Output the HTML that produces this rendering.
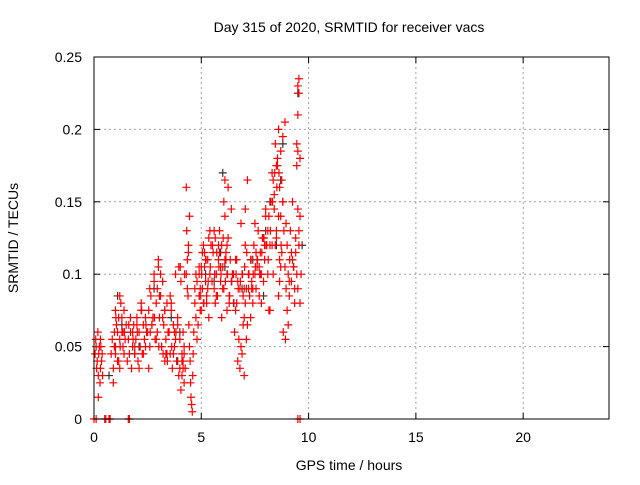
<!DOCTYPE html>
<html><head><meta charset="utf-8"><style>
body{margin:0;background:#fff}
svg text{font-family:"Liberation Sans",sans-serif;font-size:14px;fill:#000}
</style></head><body>
<svg id="chart" width="640" height="480">
<text x="349" y="32" text-anchor="middle">Day 315 of 2020, SRMTID for receiver vacs</text>
<g id="grid"></g>
<g id="ticks"></g>
<g id="black"></g>
<g id="red"></g>
<rect x="94" y="57" width="515" height="362" fill="none" stroke="#000"/>
<text x="349" y="470" text-anchor="middle">GPS time / hours</text>
<text transform="translate(18,238) rotate(-90)" text-anchor="middle">SRMTID / TECUs</text>
</svg>
<script>
const xTicks=[0,5,10,15,20];
const yTicks=[0,0.05,0.1,0.15,0.2,0.25];
const yTickLabels=["0","0.05","0.1","0.15","0.2","0.25"];
const redTimes=[0.05,0.08,0.1,0.12,0.15,0.18,0.2,0.22,0.25,0.28,0.3,0.32,0.35,0.38,0.4,0.2,0.3,
0.8,0.85,0.9,0.95,1.0,1.05,1.1,1.15,1.2,1.25,1.3,1.35,1.4,1.45,1.5,0.9,1.0,1.1,1.2,1.3,1.4,1.0,1.2,1.35,0.95,1.15,
1.55,1.6,1.65,1.7,1.75,1.8,1.85,1.9,1.95,2.0,2.05,2.1,2.15,2.2,2.25,2.3,2.35,2.4,2.45,1.7,1.9,2.1,2.3,1.8,2.0,2.2,2.4,
2.5,2.55,2.6,2.65,2.7,2.75,2.8,2.85,2.9,2.95,3.0,3.05,3.1,3.15,3.2,3.25,3.3,3.35,3.4,3.45,2.6,2.8,3.0,3.2,3.4,2.7,2.9,3.1,3.3,2.55,2.75,2.95,3.15,3.35,3.05,
3.5,3.55,3.6,3.65,3.7,3.75,3.8,3.85,3.9,3.95,4.0,4.05,4.1,4.15,4.2,4.25,3.6,3.7,3.8,3.9,4.0,4.1,4.2,3.55,3.75,3.95,4.15,4.05,4.1,4.15,4.2,
4.3,4.32,4.35,4.38,4.4,4.42,4.45,4.48,4.5,4.52,4.55,4.58,4.6,4.62,4.3,4.35,4.4,4.45,
4.65,4.7,4.75,4.8,4.85,4.9,4.95,5.0,5.05,5.1,5.15,5.2,5.25,5.3,5.35,5.4,5.45,4.7,4.8,4.9,5.0,5.1,5.2,5.3,5.4,4.75,4.95,5.15,5.35,5.05,5.25,
5.5,5.55,5.6,5.65,5.7,5.75,5.8,5.85,5.9,5.95,6.0,6.05,6.1,6.15,6.2,6.25,6.3,6.35,6.4,6.45,5.6,5.7,5.8,5.9,6.0,6.1,6.2,6.3,6.4,5.65,5.85,6.05,6.25,6.1,6.15,6.2,5.75,5.95,
6.5,6.55,6.6,6.65,6.7,6.75,6.8,6.85,6.9,6.95,7.0,7.05,7.1,7.15,7.2,6.6,6.7,6.8,6.9,7.0,7.1,6.95,7.0,7.05,6.65,6.85,7.05,7.15,7.2,7.2,
7.25,7.3,7.35,7.4,7.45,7.5,7.55,7.6,7.65,7.7,7.75,7.8,7.85,7.9,7.95,8.0,8.05,8.1,8.15,8.2,7.3,7.4,7.5,7.6,7.7,7.8,7.9,8.0,8.1,8.2,7.35,7.55,7.75,7.95,8.15,7.6,
8.25,8.3,8.35,8.4,8.45,8.5,8.55,8.6,8.65,8.7,8.75,8.8,8.85,8.9,8.95,8.3,8.4,8.5,8.6,8.7,8.8,8.9,8.45,8.55,8.65,8.75,8.6,8.7,8.5,8.8,8.35,8.65,8.95,
9.0,9.05,9.1,9.15,9.2,9.25,9.3,9.35,9.4,9.45,9.5,9.55,9.6,9.65,9.0,9.1,9.2,9.3,9.4,9.5,9.6,9.45,9.5,9.55,9.5,9.55,9.45,9.5,9.55,9.6,9.05,9.25,9.35,9.5,9.6,
0.0,0.1,0.5,0.55,0.7,0.75,1.6,1.65,4.9,4.95,
5.02,5.12,5.22,5.32,5.42,5.52,5.62,5.72,5.82,5.92,6.02,6.12,6.22,6.32,6.42,6.52,6.62,6.72,6.82,6.92,
7.02,7.12,7.22,7.32,7.42,7.52,7.62,7.72,7.82,7.92,8.02,8.12,8.22,8.32,8.42,8.52,8.62,8.72,8.82,8.92,
1.02,1.22,1.42,1.62,1.82,2.02,2.22,2.42,2.62,2.82,3.02,3.22,3.42,3.62,3.82,4.02,4.22,9.12,9.32,9.52];
const redValues=[0.045,0.055,0.05,0.035,0.04,0.06,0.03,0.045,0.05,0.025,0.035,0.05,0.04,0.045,0.03,0.015,0.055,
0.045,0.055,0.035,0.06,0.05,0.065,0.04,0.07,0.055,0.08,0.06,0.05,0.075,0.055,0.065,0.025,0.045,0.06,0.035,0.07,0.045,0.075,0.085,0.06,0.05,0.04,
0.04,0.055,0.045,0.06,0.035,0.05,0.065,0.045,0.055,0.07,0.04,0.06,0.05,0.075,0.045,0.065,0.055,0.07,0.06,0.07,0.05,0.035,0.045,0.06,0.065,0.08,0.05,
0.06,0.075,0.05,0.085,0.065,0.07,0.095,0.055,0.08,0.06,0.105,0.07,0.085,0.05,0.095,0.065,0.075,0.045,0.08,0.06,0.09,0.1,0.11,0.07,0.045,0.065,0.055,0.1,0.04,0.035,0.07,0.09,0.05,0.055,0.085,
0.06,0.045,0.08,0.035,0.065,0.05,0.1,0.04,0.07,0.03,0.055,0.095,0.045,0.06,0.025,0.035,0.075,0.045,0.055,0.065,0.035,0.04,0.05,0.085,0.06,0.105,0.04,0.02,0.03,0.035,0.045,
0.16,0.13,0.11,0.085,0.12,0.065,0.05,0.04,0.025,0.015,0.01,0.005,0.03,0.045,0.1,0.09,0.115,0.14,
0.06,0.08,0.07,0.095,0.065,0.085,0.075,0.105,0.09,0.08,0.115,0.095,0.085,0.11,0.07,0.1,0.12,0.09,0.055,0.1,0.075,0.12,0.11,0.09,0.13,0.1,0.085,0.105,0.125,0.115,
0.08,0.095,0.115,0.09,0.125,0.1,0.085,0.11,0.13,0.095,0.12,0.105,0.09,0.14,0.115,0.1,0.125,0.085,0.11,0.095,0.1,0.13,0.085,0.12,0.105,0.09,0.11,0.12,0.08,0.145,0.08,0.115,0.15,0.16,0.165,0.11,0.075,
0.085,0.07,0.1,0.06,0.11,0.08,0.095,0.055,0.09,0.05,0.045,0.085,0.07,0.12,0.09,0.065,0.1,0.075,0.04,0.035,0.1,0.03,0.055,0.065,0.09,0.08,0.11,0.135,0.145,0.165,
0.09,0.1,0.085,0.11,0.095,0.08,0.12,0.1,0.09,0.105,0.13,0.085,0.115,0.1,0.125,0.095,0.11,0.14,0.12,0.13,0.075,0.12,0.07,0.09,0.135,0.11,0.105,0.08,0.125,0.145,0.1,0.075,0.09,0.115,0.1,0.12,
0.14,0.11,0.15,0.12,0.165,0.145,0.19,0.13,0.175,0.2,0.16,0.185,0.115,0.15,0.13,0.105,0.135,0.17,0.155,0.125,0.14,0.105,0.195,0.205,0.12,0.18,0.095,0.165,0.085,0.14,0.175,0.15,0.1,
0.11,0.09,0.12,0.1,0.085,0.13,0.095,0.11,0.105,0.08,0.115,0.1,0.09,0.12,0.14,0.1,0.075,0.095,0.115,0.105,0.125,0.185,0.18,0.19,0.21,0.235,0.23,0.225,0.175,0.145,0.13,0.08,0.065,0.15,0.09,
0,0,0,0,0,0,0,0,0,0,
0.105,0.09,0.1,0.08,0.11,0.095,0.105,0.12,0.1,0.115,0.105,0.1,0.125,0.095,0.1,0.085,0.095,0.08,0.1,0.09,
0.095,0.1,0.105,0.115,0.1,0.11,0.1,0.105,0.11,0.1,0.115,0.125,0.12,0.11,0.13,0.15,0.17,0.16,0.17,0.12,
0.06,0.055,0.07,0.05,0.06,0.065,0.055,0.06,0.075,0.065,0.06,0.07,0.05,0.045,0.04,0.05,0.06,0.105,0.1,0.11];
const blackTimes=[1.1,1.3,2.8,3.3,3.6,4.0,5.2,5.6,6.0,6.1,6.5,7.4,7.9,8.2,8.5,8.7,8.8,9.3,9.5,9.7,2.1,3.9,5.9,6.9,8.0,0.7,1.9];
const blackValues=[0.085,0.065,0.09,0.075,0.07,0.06,0.1,0.095,0.17,0.105,0.08,0.11,0.085,0.15,0.12,0.165,0.19,0.105,0.225,0.12,0.05,0.04,0.115,0.09,0.13,0.03,0.045];
const X0=94,X1=609,Y0=419,Y1=57,XMAX=24,YMAX=0.25;
const sx=v=>X0+(X1-X0)*v/XMAX;
const sy=v=>Y0-(Y0-Y1)*v/YMAX;
const NS='http://www.w3.org/2000/svg';
function mk(tag,attrs,parent){const e=document.createElementNS(NS,tag);for(const k in attrs)e.setAttribute(k,attrs[k]);parent.appendChild(e);return e;}
const grid=document.getElementById('grid'),ticks=document.getElementById('ticks');
xTicks.forEach(t=>{const x=sx(t);
 if(t>0){const g=mk('line',{x1:x,x2:x,y1:Y0,y2:Y1,stroke:'#a0a0a0','stroke-dasharray':'2,3'},grid);
 
 }
 mk('line',{x1:x,x2:x,y1:Y0,y2:Y0-6,stroke:'#000'},ticks);
 mk('line',{x1:x,x2:x,y1:Y1,y2:Y1+6,stroke:'#000'},ticks);
 const l=mk('text',{x:x,y:Y0+23,'text-anchor':'middle'},ticks);l.textContent=t;
 
 });
yTicks.forEach((t,i)=>{const y=sy(t);
 if(t>0&&t<YMAX){const g=mk('line',{x1:X0,x2:X1,y1:y,y2:y,stroke:'#a0a0a0','stroke-dasharray':'2,3'},grid);
 
 }
 mk('line',{x1:X0,x2:X0+6,y1:y,y2:y,stroke:'#000'},ticks);
 mk('line',{x1:X1,x2:X1-6,y1:y,y2:y,stroke:'#000'},ticks);
 const l=mk('text',{x:X0-12,y:y+5,'text-anchor':'end'},ticks);l.textContent=yTickLabels[i];
 
 });
function plot(ts,vs,col,gid,name){const g=document.getElementById(gid);
 ts.forEach((t,i)=>{const x=sx(t),y=sy(vs[i]);
  const p=mk('path',{d:`M${x-4},${y}H${x+4}M${x},${y-4}V${y+4}`,stroke:col,'stroke-width':1.2,fill:'none'},g);
  
  });}
plot(blackTimes,blackValues,'#333','black','black-point');
plot(redTimes,redValues,'#ff0000','red','red-point');
</script>
</body></html>
